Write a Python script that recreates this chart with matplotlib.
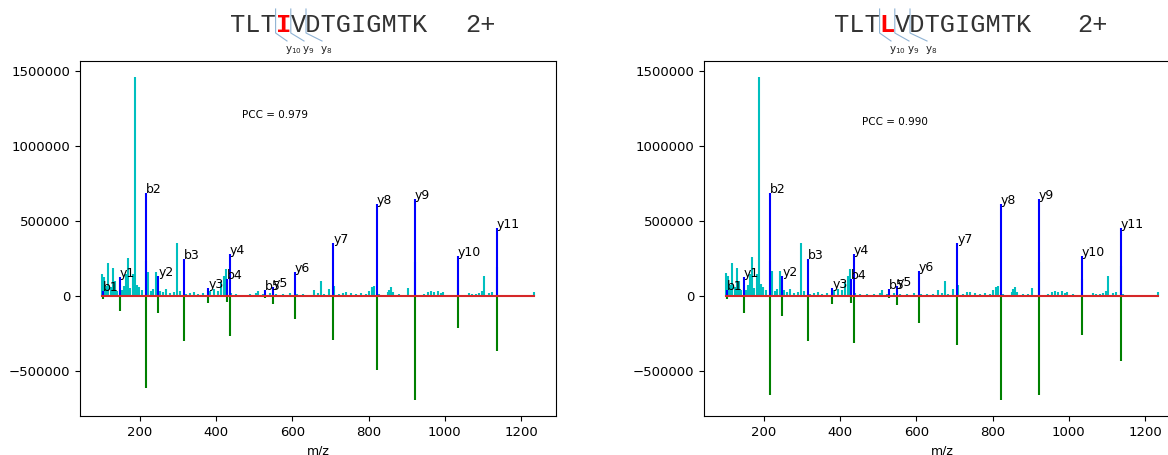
import matplotlib
matplotlib.use('Agg')
import matplotlib.pyplot as plt

W, H = 1168, 455

# ---------------- data ----------------
ion_labels = ['b1', 'y1', 'b2', 'y2', 'b3', 'y3', 'b4', 'y4', 'b5', 'y5',
              'y6', 'y7', 'y8', 'y9', 'y10', 'y11']
ion_mz = [102.055, 147.113, 215.139, 248.161, 316.187, 379.201, 429.271,
          436.223, 528.339, 549.307, 606.328, 707.376, 822.403, 921.471,
          1034.555, 1135.603]
exp_matched = [37000, 125000, 689000, 132000, 246000, 55000, 114000, 279000,
               44000, 64000, 164000, 355000, 612000, 647000, 268000, 456000]
pred_left = [-22000, -99000, -614000, -110000, -296000, -44000, -39000,
             -263000, -15000, -55000, -149000, -289000, -489000, -691000,
             -213000, -368000]
pred_right = [-20000, -116000, -662000, -136000, -300000, -55000, -50000,
              -314000, -12000, -61000, -182000, -327000, -693000, -658000,
              -257000, -432000]

other_mz = [99.7, 105.8, 111.0, 117.1, 123.2, 128.4, 134.6, 138.9, 152.0,
            158.1, 163.4, 168.6, 173.8, 180.8, 186.0, 193.0, 198.3, 204.4,
            216.1, 221.8, 227.9, 233.2, 241.9, 254.1, 261.1, 269.8, 278.5,
            289.0, 297.7, 304.7, 322.2, 330.9, 341.4, 352.7, 365.8, 383.2,
            393.7, 405.1, 413.8, 419.9, 425.1, 440.0, 453.0, 470.5, 488.0,
            505.4, 509.8, 522.9, 540.3, 557.8, 575.2, 592.7, 611.9, 627.6,
            645.0, 658.1, 666.8, 675.6, 684.3, 697.4, 708.4, 723.6, 732.3,
            741.0, 754.1, 767.2, 780.3, 793.4, 802.1, 809.1, 813.4, 828.3,
            850.1, 854.5, 858.8, 863.2, 880.6, 893.7, 902.4, 922.5, 946.0,
            954.8, 963.5, 972.3, 981.0, 989.7, 994.1, 1011.5, 1035.6, 1063.9,
            1072.6, 1081.3, 1090.0, 1098.8, 1103.1, 1116.2, 1125.0, 1136.6,
            1142.4, 1234.9]
other_int = [151000, 130000, 70000, 221000, 59000, 186000, 103000, 37000,
             42000, 70000, 147000, 257000, 53000, 147000, 1460000, 77000,
             59000, 42000, 234000, 164000, 33000, 48000, 164000, 37000, 26000,
             48000, 20000, 26000, 355000, 33000, 15000, 20000, 26000, 15000,
             22000, 37000, 46000, 37000, 92000, 136000, 182000, 20000, 15000,
             11000, 15000, 20000, 37000, 15000, 20000, 15000, 15000, 20000,
             15000, 15000, 11000, 42000, 20000, 103000, 15000, 46000, 70000,
             15000, 24000, 28000, 20000, 15000, 20000, 15000, 37000, 59000,
             68000, 15000, 28000, 44000, 59000, 28000, 15000, 11000, 55000,
             230000, 15000, 28000, 33000, 28000, 33000, 22000, 28000, 11000,
             110000, 22000, 15000, 15000, 22000, 33000, 132000, 22000, 28000,
             197000, 11000, 28000]

yticks = [-500000, 0, 500000, 1000000, 1500000]
xticks = [200, 400, 600, 800, 1000, 1200]

sequences = ['TLTIVDTGIGMTK', 'TLTLVDTGIGMTK']
charge = '2+'
pcc_texts = ['PCC = 0.979', 'PCC = 0.990']
frag_labels = ['y$_{10}$', 'y$_9$', 'y$_8$']


def fx(x):
    return x / W


def fy(y):
    return 1 - y / H


fig = plt.figure(figsize=(W / 100, H / 100), dpi=100)

panels = [
    dict(left=80, pred=pred_left, pcc=pcc_texts[0], pcc_xy=(467, 1210000),
         seq=sequences[0], seq_x=230, charge_x=465,
         lab_x=[285, 302, 320]),
    dict(left=704, pred=pred_right, pcc=pcc_texts[1], pcc_xy=(457, 1158000),
         seq=sequences[1], seq_x=834, charge_x=1077,
         lab_x=[889, 907, 925]),
]

axw = 476
for p in panels:
    ax = fig.add_axes([fx(p['left']), fy(416), axw / W, (416 - 61) / H])
    ax.vlines(other_mz, 0, other_int, color='c', lw=1.5)
    ax.vlines(ion_mz, 0, exp_matched, color='b', lw=1.5)
    ax.vlines(ion_mz, 0, p['pred'], color='g', lw=1.5)
    allx = other_mz + ion_mz
    ax.plot([min(allx), max(allx)], [0, 0], color='C3', lw=1.5)
    for lab, mz, it in zip(ion_labels, ion_mz, exp_matched):
        ax.text(mz, it, lab, fontsize=9, ha='left', va='baseline')
    ax.text(p['pcc_xy'][0], p['pcc_xy'][1], p['pcc'], fontsize=7.5,
            ha='left', va='center')
    ax.set_yticks(yticks)
    ax.set_xticks(xticks)
    ax.ticklabel_format(axis='y', style='plain', useOffset=False)
    ax.tick_params(labelsize=9.5)
    ax.set_xlabel('m/z', fontsize=9)

    # peptide header
    cw = 15.2
    fs = 18.3
    seq = p['seq']
    base_y = 32
    fig.text(fx(p['seq_x']), fy(base_y), seq[:3], family='Liberation Mono',
             fontsize=fs, color='#333333', ha='left', va='baseline')
    fig.text(fx(p['seq_x'] + 3 * cw), fy(base_y), seq[3],
             family='Liberation Mono', fontsize=fs, color='red',
             fontweight='bold', ha='left', va='baseline')
    fig.text(fx(p['seq_x'] + 4 * cw), fy(base_y), seq[4:],
             family='Liberation Mono', fontsize=fs, color='#333333',
             ha='left', va='baseline')
    fig.text(fx(p['charge_x']), fy(base_y), charge, family='Liberation Mono',
             fontsize=fs, color='#333333', ha='left', va='baseline')
    for k, (lab, lx) in enumerate(zip(frag_labels, p['lab_x'])):
        bx = p['seq_x'] + (3 + k) * cw
        fig.add_artist(plt.Line2D([fx(bx), fx(bx), fx(lx + 2)],
                                  [fy(9), fy(33), fy(41)],
                                  transform=fig.transFigure,
                                  color='#8fb3d4', lw=0.8))
        fig.text(fx(lx), fy(52), lab, fontsize=7.5, color='#222222',
                 ha='left', va='baseline')

fig.savefig('out.png', dpi=100)
